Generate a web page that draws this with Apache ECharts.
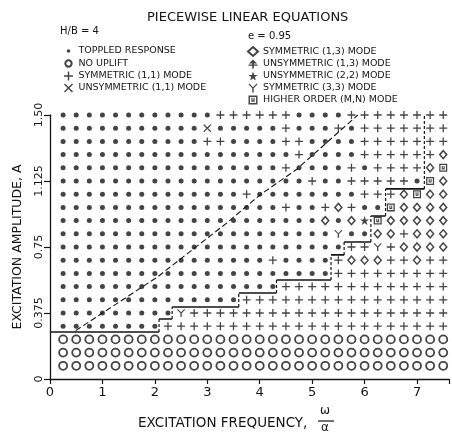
<!DOCTYPE html>
<html>
<head>
<meta charset="utf-8">
<script src="https://cdn.jsdelivr.net/npm/echarts@6/dist/echarts.min.js"></script>
<style>
html, body { margin: 0; padding: 0; background: #fff; }
#chart { width: 452px; height: 441px; }
</style>
</head>
<body>
<div id="chart"></div>
<script>
var freqs = [0.25, 0.5, 0.75, 1, 1.25, 1.5, 1.75, 2, 2.25, 2.5, 2.75, 3, 3.25, 3.5, 3.75,
             4, 4.25, 4.5, 4.75, 5, 5.25, 5.5, 5.75, 6, 6.25, 6.5, 6.75, 7, 7.25, 7.5];
var amps = [1.5, 1.425, 1.35, 1.275, 1.2, 1.125, 1.05, 0.975, 0.9, 0.825,
            0.75, 0.675, 0.6, 0.525, 0.45, 0.375, 0.3, 0.225, 0.15, 0.075];

// one string per amplitude (top row first), one character per frequency column
// . toppled  o no uplift  + sym(1,1)  x unsym(1,1)  d sym(1,3)  u unsym(1,3)
// s unsym(2,2)  y sym(3,3)  h higher order
var responseRows = [
  '............++++++....++++++++',
  '...........x.....+...+.+++++++',
  '...........++....++....+++++++',
  '..................+....++++++d',
  '.................+....+.++++dh',
  '...................+..+++++.hd',
  '..............+........+++dhdd',
  '.................+..+d+..hdddd',
  '....................d.dshddddd',
  '.....................y..dd+ddd',
  '......................++y+dddd',
  '................+....+ddd++d++',
  '.....................+++++++++',
  '.................+++++++++++++',
  '..............++++++++++++++++',
  '.........y++++++++++++++++++++',
  '........++++++++++++++++++++++',
  'oooooooooooooooooooooooooooooo',
  'oooooooooooooooooooooooooooooo',
  'oooooooooooooooooooooooooooooo'
];

// dashed diagonal
var diagX = [0.49, 2.05, 3.37, 4.0, 4.7, 5.87];
var diagY = [0.275, 0.58, 0.886, 1.045, 1.19, 1.5];

// staircase boundary
var stairX = [0, 2.08, 2.08, 2.33, 2.33, 3.6, 3.6, 4.32, 4.32, 5.36, 5.36, 5.61, 5.61, 6.12, 6.12, 6.4, 6.4, 7.14, 7.14];
var stairY = [0.267, 0.267, 0.341, 0.341, 0.409, 0.409, 0.489, 0.489, 0.5625, 0.5625, 0.705, 0.705, 0.778, 0.778, 0.926, 0.926, 1.08, 1.08, 1.5];

var yTickText = { '0': '0', '0.375': '0.375', '0.75': '0.75', '1.125': '1.125', '1.5': '1.50' };

var INK = '#151515';
var FONT = 'DejaVu Sans';

var kinds = [
  { code: '.', name: 'TOPPLED RESPONSE', symbol: 'circle', size: 5,
    icon: 'path://M0,0M10,10M3,5A2,2,0,1,1,7,5A2,2,0,1,1,3,5Z' },
  { code: 'o', name: 'NO UPLIFT', symbol: 'circle', size: 8, fill: '#fff', border: 1.8,
    icon: 'path://M1.5,5A3.5,3.5,0,1,1,8.5,5A3.5,3.5,0,1,1,1.5,5Z M0,0M10,10' },
  { code: '+', name: 'SYMMETRIC (1,1) MODE', size: 8,
    symbol: 'path://M4.2,0H5.8V4.2H10V5.8H5.8V10H4.2V5.8H0V4.2H4.2Z' },
  { code: 'x', name: 'UNSYMMETRIC (1,1) MODE', size: 8,
    symbol: 'path://M0,1.1L1.1,0L5,3.9L8.9,0L10,1.1L6.1,5L10,8.9L8.9,10L5,6.1L1.1,10L0,8.9L3.9,5Z' },
  { code: 'd', name: 'SYMMETRIC (1,3) MODE', symbol: 'diamond', size: [7, 8], fill: '#fff', border: 1.5 },
  { code: 'u', name: 'UNSYMMETRIC (1,3) MODE', size: 9,
    symbol: 'path://M5,0L9.5,4.5H5.9V5.6H10V7H5.9V10H4.1V7H0V5.6H4.1V4.5H0.5Z' },
  { code: 's', name: 'UNSYMMETRIC (2,2) MODE', size: 9,
    symbol: 'path://M5,0L6.2,3.6H10L6.9,5.8L8.1,9.5L5,7.3L1.9,9.5L3.1,5.8L0,3.6H3.8Z' },
  { code: 'y', name: 'SYMMETRIC (3,3) MODE', size: 8,
    symbol: 'path://M0,0.9L1,0L5,4.2L9,0L10,0.9L5.8,5.2V10H4.2V5.2Z' },
  { code: 'h', name: 'HIGHER ORDER (M,N) MODE', size: 8,
    symbol: 'path://M0,0H10V10H0Z M1.6,1.6V8.4H8.4V1.6Z M3.2,2.6H4.5V5.6H5.5V2.6H6.8V7H3.2Z' }
];

var series = [];
kinds.forEach(function (k) {
  var pts = [];
  for (var r = 0; r < responseRows.length; r++) {
    for (var c = 0; c < freqs.length; c++) {
      if (responseRows[r].charAt(c) === k.code) pts.push([freqs[c], amps[r]]);
    }
  }
  series.push({
    name: k.name,
    type: 'scatter',
    symbol: k.symbol,
    symbolSize: k.size,
    itemStyle: { color: k.fill || INK, borderColor: INK, borderWidth: k.border || 0 },
    data: pts,
    silent: true
  });
});

var diagData = diagX.map(function (x, i) { return [x, diagY[i]]; });
var flatData = [], riseData = [];
for (var i = 0; i < stairX.length - 1; i++) {
  var seg = [[stairX[i], stairY[i]], [stairX[i + 1], stairY[i + 1]], ['-', '-']];
  if (stairY[i] === stairY[i + 1]) flatData = flatData.concat(seg);
  else riseData = riseData.concat(seg);
}
series.push({ type: 'line', data: diagData, symbol: 'none', silent: true,
  lineStyle: { color: INK, width: 1.1, type: [6, 3] } });
series.push({ type: 'line', data: flatData, symbol: 'none', silent: true, connectNulls: false,
  lineStyle: { color: INK, width: 1.6 } });
series.push({ type: 'line', data: riseData, symbol: 'none', silent: true, connectNulls: false,
  lineStyle: { color: INK, width: 1.2, type: [3, 2] } });

function legendItems(list) {
  return list.map(function (k) {
    var d = { name: k.name };
    if (k.icon) d.icon = k.icon;
    return d;
  });
}
var legendBase = {
  orient: 'vertical', top: 41, itemWidth: 10, itemHeight: 9, itemGap: 2,
  selectedMode: false,
  textStyle: { fontSize: 9.5, lineHeight: 9, color: INK, fontFamily: FONT }
};

var chart = echarts.init(document.getElementById('chart'));
chart.setOption({
  animation: false,
  backgroundColor: '#fff',
  textStyle: { fontFamily: FONT, color: INK },
  title: {
    text: 'PIECEWISE LINEAR EQUATIONS',
    left: 142, top: 6,
    textStyle: { fontSize: 13, fontWeight: 'normal', color: INK, fontFamily: FONT }
  },
  legend: [
    Object.assign({}, legendBase, { left: 58, data: legendItems(kinds.slice(0, 4)) }),
    Object.assign({}, legendBase, { left: 242, data: legendItems(kinds.slice(4)) })
  ],
  grid: { left: 50, right: 0, top: 115, bottom: 62 },
  xAxis: {
    type: 'value', min: 0, max: 7.61, interval: 1,
    axisLine: { lineStyle: { color: INK, width: 1.3 } },
    axisTick: { show: true, length: 5, lineStyle: { color: INK, width: 1.2 } },
    axisLabel: { color: INK, fontSize: 13, margin: 7, fontFamily: FONT,
      formatter: function (v) { return v % 1 === 0 ? String(v) : ''; } },
    splitLine: { show: false }
  },
  yAxis: {
    type: 'value', min: 0, max: 1.5, interval: 0.375,
    name: 'EXCITATION AMPLITUDE, A', nameLocation: 'middle', nameGap: 26, nameRotate: 90,
    nameTextStyle: { fontSize: 12.5, color: INK, fontFamily: FONT },
    axisLine: { lineStyle: { color: INK, width: 1.3 } },
    axisTick: { show: true, length: 6, lineStyle: { color: INK, width: 1.2 } },
    axisLabel: { color: INK, fontSize: 11, rotate: 90, margin: 5, fontFamily: FONT,
      formatter: function (v) { return yTickText[String(v)] || ''; } },
    splitLine: { show: false }
  },
  graphic: [
    { type: 'text', left: 60, top: 26, style: { text: 'H/B = 4', fontSize: 10, fill: INK, fontFamily: FONT } },
    { type: 'text', left: 248, top: 31, style: { text: 'e = 0.95', fontSize: 10, fill: INK, fontFamily: FONT } },
    { type: 'text', left: 138, top: 416, style: { text: 'EXCITATION FREQUENCY,', fontSize: 13.5, fill: INK, fontFamily: FONT } },
    { type: 'text', left: 320, top: 405, style: { text: 'ω', fontSize: 12, fill: INK, fontFamily: FONT } },
    { type: 'line', shape: { x1: 318, y1: 421, x2: 334, y2: 421 }, style: { stroke: INK, lineWidth: 1.2 } },
    { type: 'text', left: 321, top: 422, style: { text: 'α', fontSize: 12, fill: INK, fontFamily: FONT } }
  ],
  series: series
});
</script>
</body>
</html>
